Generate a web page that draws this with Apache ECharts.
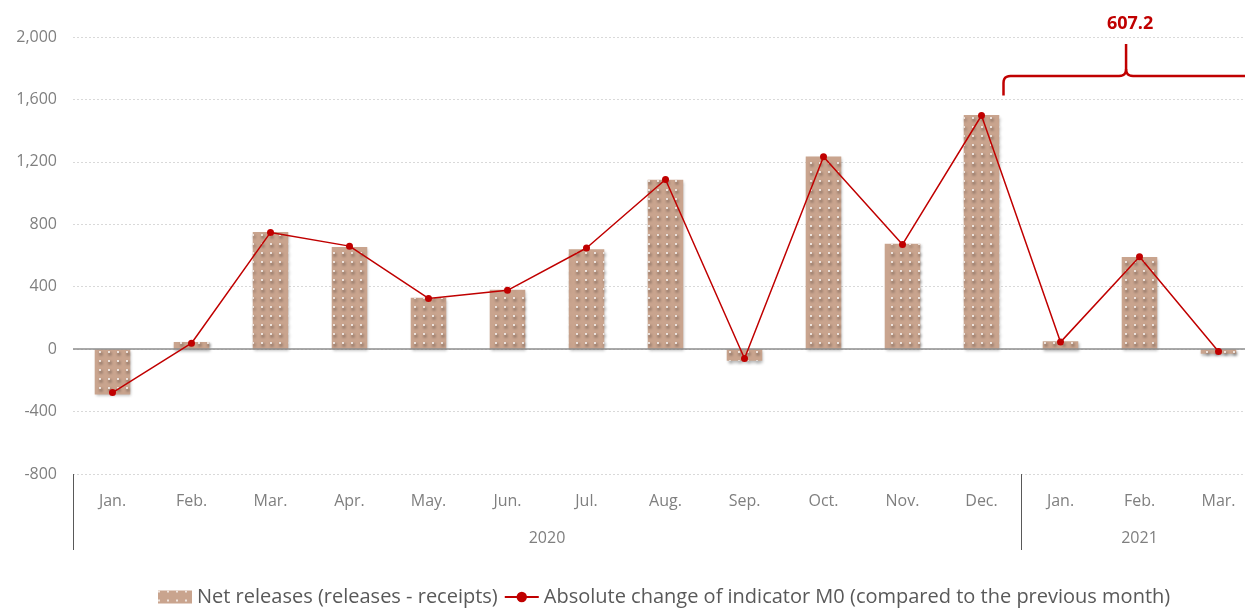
<!DOCTYPE html>
<html>
<head>
<meta charset="utf-8">
<script src="https://cdn.jsdelivr.net/npm/echarts@6/dist/echarts.min.js"></script>
<style>html,body{margin:0;padding:0;background:#fff}#c{width:1245px;height:608px}</style>
</head>
<body>
<div id="c"></div>
<script>
const months = ['Jan.','Feb.','Mar.','Apr.','May.','Jun.','Jul.','Aug.','Sep.','Oct.','Nov.','Dec.','Jan.','Feb.','Mar.'];
const years = ['2020','2021'];
const netReleases = [-290, 45, 750, 655, 330, 380, 640, 1085, -75, 1235, 675, 1500, 50, 590, -30];
const m0Change = [-278, 38, 748, 660, 325, 377, 648, 1087, -60, 1233, 671, 1497, 45, 592, -15];
const yTicks = [-800, -400, 0, 400, 800, 1200, 1600, 2000];
const bracketLabel = '607.2';

const chart = echarts.init(document.getElementById('c'), null, {renderer:'canvas'});
const font = '"Open Sans", "Noto Sans", sans-serif';
const option = {
  animation: false,
  grid: {left: 73, width: 1185, top: 37, bottom: 134, containLabel: false, outerBoundsMode: 'none'},
  legend: {
    bottom: -4, left: 153, itemGap: 6, itemHeight: 13, itemWidth: 34,
    textStyle: {fontFamily: font, fontSize: 20, color: '#595959'},
    data: [
      {name: 'Net releases (releases - receipts)', icon: 'rect', itemStyle: {color: '#C9A48E'}},
      {name: 'Absolute change of indicator M0 (compared to the previous month)'}
    ]
  },
  xAxis: [
    {
      type: 'category', data: months, position: 'bottom',
      axisLine: {show: false}, axisTick: {show: false}, splitLine: {show: false},
      axisLabel: {color: '#7f7f7f', fontSize: 16, fontFamily: font, margin: 19, interval: 0}
    },
    {
      type: 'value', min: 0, max: months.length, position: 'bottom',
      axisLine: {show: false}, splitLine: {show: false},
      axisTick: {show: true, customValues: [0, 12], length: 76, lineStyle: {color: '#595959', width: 1}},
      axisLabel: {customValues: [6, 13.5], margin: 56, color: '#7f7f7f', fontSize: 16, fontFamily: font,
        formatter: v => (v === 6 ? years[0] : years[1])}
    }
  ],
  yAxis: {
    type: 'value', min: yTicks[0], max: yTicks[yTicks.length-1], interval: 400,
    axisLine: {show: false}, axisTick: {show: false},
    axisLabel: {color: '#7f7f7f', fontSize: 16, fontFamily: font, margin: 16,
      formatter: v => v.toLocaleString('en-US')},
    splitLine: {lineStyle: {color: '#d9d9d9', type: [2, 2], width: 1}}
  },
  series: [
    {
      name: 'Net releases (releases - receipts)', type: 'bar', data: netReleases,
      barWidth: '45%',
      itemStyle: {
        color: '#C9A48E',
        shadowBlur: 3, shadowColor: 'rgba(0,0,0,0.3)', shadowOffsetX: 1, shadowOffsetY: 2,
        decal: {symbol: 'circle', symbolSize: 1, color: 'rgba(255,255,255,0.95)', dashArrayX: [[2, 7]], dashArrayY: [2, 7], rotation: 0}
      },
      markLine: {
        silent: true, symbol: 'none', label: {show: false},
        lineStyle: {color: '#8c8c8c', type: 'solid', width: 1.5},
        data: [{yAxis: 0}]
      },
      z: 2
    },
    {
      name: 'Absolute change of indicator M0 (compared to the previous month)', type: 'line', data: m0Change,
      symbol: 'circle', symbolSize: 7,
      lineStyle: {color: '#C00000', width: 1.5},
      itemStyle: {color: '#C00000'},
      z: 5
    }
  ]
};
chart.setOption(option);

// bracket annotation over the 2021 months
const pDec = chart.convertToPixel({xAxisIndex: 0, yAxisIndex: 0}, [11, 1600]);
const pMid = chart.convertToPixel({xAxisIndex: 1, yAxisIndex: 0}, [13.33, 1750]);
const pTop = chart.convertToPixel({xAxisIndex: 0, yAxisIndex: 0}, [11, 1955]);
const x0 = pDec[0] + 22, yb = pDec[1] - 4, yh = pMid[1], xm = pMid[0], ytop = pTop[1];
function quad(p0, c, p1, n) {
  const pts = [];
  for (let i = 0; i <= n; i++) {
    const t = i / n, u = 1 - t;
    pts.push([u*u*p0[0] + 2*u*t*c[0] + t*t*p1[0], u*u*p0[1] + 2*u*t*c[1] + t*t*p1[1]]);
  }
  return pts;
}
const r = 7;
const leftPts = [[x0, yb]].concat(quad([x0, yh + r], [x0, yh], [x0 + r, yh], 6))
  .concat(quad([xm - r, yh], [xm, yh], [xm, yh - r], 6)).concat([[xm, ytop]]);
const rightPts = quad([xm, yh - r], [xm, yh], [xm + r, yh], 6).concat([[1260, yh]]);
chart.setOption({
  graphic: [
    {type: 'polyline', silent: true, shape: {points: leftPts}, style: {stroke: '#C00000', lineWidth: 2.5, fill: null}},
    {type: 'polyline', silent: true, shape: {points: rightPts}, style: {stroke: '#C00000', lineWidth: 2.5, fill: null}},
    {
      type: 'text', silent: true, x: xm + 4, y: 24,
      style: {text: bracketLabel, fill: '#C00000', font: 'bold 18px "Open Sans", sans-serif', align: 'center', verticalAlign: 'middle'}
    }
  ]
});
</script>
</body>
</html>
